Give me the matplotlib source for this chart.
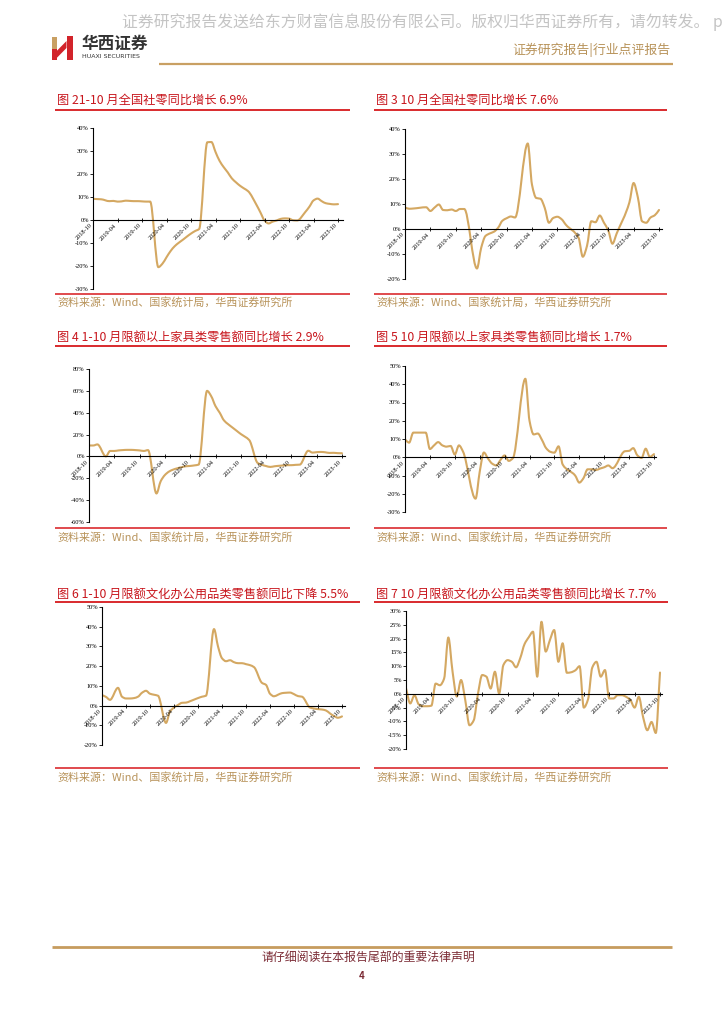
import matplotlib
matplotlib.use('Agg')
import matplotlib.pyplot as plt
from matplotlib.patches import Polygon, Rectangle, PathPatch
from matplotlib.path import Path

plt.rcParams['font.family'] = ['Noto Sans CJK SC', 'DejaVu Sans']

N = None
# month index 0 = 2018-10 ... 60 = 2023-10
xlabels = ['2018-10', '2019-04', '2019-10', '2020-04', '2020-10', '2021-04',
           '2021-10', '2022-04', '2022-10', '2023-04', '2023-10']

# 图2 社零累计同比
retail_ytd = [9.2, 9.1, 9.0,
              N, 8.2, 8.3, 8.0, 8.1, 8.4, 8.3, 8.2, 8.2, 8.1, 8.0, 8.0,
              N, -20.5, -19.0, -16.2, -13.5, -11.4, -9.9, -8.6, -7.2, -5.9, -4.8, -3.9,
              N, 33.8, 33.9, 29.6, 25.7, 23.0, 20.7, 18.1, 16.4, 14.9, 13.7, 12.5,
              N, 6.7, 3.3, -0.2, -1.5, -0.7, -0.2, 0.5, 0.7, 0.6, -0.1, -0.2,
              N, 3.5, 5.8, 8.5, 9.3, 8.2, 7.3, 7.0, 6.8, 6.9]
# 图3 社零当月同比
retail_mom = [8.6, 8.1, 8.2,
              N, N, 8.7, 7.2, 8.6, 9.8, 7.6, 7.5, 7.8, 7.2, 8.0, 8.0,
              N, N, -15.8, -7.5, -2.8, -1.8, -1.1, 0.5, 3.3, 4.3, 5.0, 4.6,
              N, N, 34.2, 17.7, 12.4, 12.1, 8.5, 2.5, 4.4, 4.9, 3.9, 1.7,
              N, N, -3.5, -11.1, -6.7, 3.1, 2.7, 5.4, 2.5, -0.5, -5.9, -1.8,
              N, N, 10.6, 18.4, 12.7, 3.1, 2.5, 4.6, 5.5, 7.6]
# 图4 家具累计同比
furn_ytd = [10.0, 10.0, 11.0,
            N, 0.0, 5.0, 5.0, 5.5, 5.8, 6.0, 6.0, 5.8, 5.5, 5.0, 5.8,
            N, -33.9, -22.7, -17.0, -13.8, -12.0, -10.8, -9.8, -9.0, -8.7, -8.2, -7.5,
            N, 60.0, 55.0, 46.0, 40.0, 33.0, 29.5, 26.5, 23.5, 20.5, 18.0, 15.0,
            N, -6.0, -7.7, -8.8, -9.6, -9.0, -8.6, -8.3, -8.0, -8.0, -7.7, -7.5,
            N, 5.2, 3.5, 3.9, 4.1, 3.8, 3.2, 3.3, 3.0, 2.9]
# 图5 家具当月同比
furn_mom = [9.7, 8.0, 13.5,
            N, N, 13.5, 4.5, 6.5, 8.3, 6.5, 5.8, 6.2, 1.5, 6.5, 3.0,
            N, N, -22.7, -8.0, 2.6, -0.7, -3.5, -4.5, -1.5, 1.0, -2.0, -0.5,
            N, N, 43.0, 20.0, 12.5, 13.0, 9.5, 5.0, 3.0, 2.5, 6.0, -4.0,
            N, N, -10.0, -13.9, -11.5, -6.6, -6.6, -7.0, -6.2, -5.5, -4.5, -6.0,
            N, N, 3.3, 3.5, 5.0, 1.0, -0.4, 4.7, 0.2, 1.7]
# 图6 文化办公累计同比
office_ytd = [5.3, 4.4, 2.9,
              N, 9.0, 4.5, 3.6, 3.6, 3.8, 4.5, 6.5, 7.5, 6.0, 5.5, 5.0,
              N, -8.8, -3.0, -1.0, 0.3, 1.4, 1.5, 2.2, 3.0, 3.8, 4.5, 5.0,
              N, 38.8, 30.0, 24.0, 22.5, 23.0, 22.0, 21.5, 21.5, 21.0, 20.5, 19.5,
              N, 11.5, 10.5, 6.0, 4.7, 5.5, 6.3, 6.5, 6.6, 5.8, 4.8, 4.5,
              N, -1.0, -1.5, -1.8, -2.0, -2.5, -4.0, -5.3, -6.2, -5.5]
# 图7 文化办公当月同比
office_mom = [2.0, -3.5, -0.5,
              -3.8, -4.5, -4.5, -4.3, 3.7, 3.1, 5.5, 20.4, 8.0, -1.0, 5.0, -2.3,
              -11.4, -9.6, 0.0, 6.8, 6.2, 1.9, 8.0, 0.1, 10.4, 12.2, 11.6, 9.6,
              13.0, 18.0, 20.5, 22.5, 6.2, 26.1, 15.3, 19.5, 23.1, 11.6, 18.3, 7.6,
              7.8, 8.5, 10.0, -5.0, -2.0, 9.5, 11.6, 6.2, 8.6, -1.7, -1.7, -0.5,
              -0.5, -1.1, -2.3, -5.0, -1.1, -8.4, -13.2, -10.2, -14.2, 7.7]

titles = ['图 21-10 月全国社零同比增长 6.9%',
          '图 3 10 月全国社零同比增长 7.6%',
          '图 4 1-10 月限额以上家具类零售额同比增长 2.9%',
          '图 5 10 月限额以上家具类零售额同比增长 1.7%',
          '图 6 1-10 月限额文化办公用品类零售额同比下降 5.5%',
          '图 7 10 月限额文化办公用品类零售额同比增长 7.7%']
source = '资料来源：Wind、国家统计局，华西证券研究所'

W, H = 724, 1024
line_c = '#d4a862'
red_c = '#d7191c'
title_c = '#c8161d'
gold_c = '#c9a063'
src_c = '#b8935a'

fig = plt.figure(figsize=(7.24, 10.24), dpi=100)
page = fig.add_axes([0, 0, 1, 1])
page.set_xlim(0, W)
page.set_ylim(H, 0)
page.axis('off')

# header
page.text(122, 22, '证券研究报告发送给东方财富信息股份有限公司。版权归华西证券所有，请勿转发。 p',
          fontsize=11.4, color='#c4c4c4', va='center', ha='left')
page.add_patch(Rectangle((52.3, 36.7), 4.4, 12.6, color='#c9a063', lw=0))
page.add_patch(Rectangle((52.3, 49.3), 4.4, 10.5, color='#d2232a', lw=0))
page.add_patch(Rectangle((66.5, 35.5), 6.8, 24.3, color='#d2232a', lw=0))
page.add_patch(Polygon([(56.7, 51), (66.5, 41), (66.5, 48), (56.7, 58)], closed=True,
                       color='#d2232a', lw=0))
page.text(82, 44, '华西证券', fontsize=12, fontweight='bold', color='#333333', va='center')
page.text(82, 56, 'HUAXI SECURITIES', fontsize=4.5, color='#333333', va='center',
          family=['DejaVu Sans'])
page.text(670, 50, '证券研究报告|行业点评报告', fontsize=9.3, color=src_c, ha='right', va='center')
page.plot([159, 673], [64, 64], color=gold_c, lw=1.6, solid_capstyle='butt')

# footer
page.plot([52, 672], [947, 947], color='#c69c5e', lw=2.0, solid_capstyle='butt')
page.text(368, 958, '请仔细阅读在本报告尾部的重要法律声明', fontsize=8.6, color='#7b2b35',
          ha='center', va='center')
page.text(362, 976, '4', fontsize=7, fontweight='bold', color='#7b2b35', ha='center', va='center')


def smooth_line(ax, xs, ys):
    # smoothed line without overshoot: monotone cubic tangents drawn as Beziers
    n = len(xs)
    h = [xs[i + 1] - xs[i] for i in range(n - 1)]
    d = [(ys[i + 1] - ys[i]) / h[i] for i in range(n - 1)]
    m = [d[0]] + [0.0] * (n - 2) + [d[-1]]
    for i in range(1, n - 1):
        if d[i - 1] * d[i] > 0:
            w1 = 2 * h[i] + h[i - 1]
            w2 = h[i] + 2 * h[i - 1]
            m[i] = (w1 + w2) / (w1 / d[i - 1] + w2 / d[i])
    verts = [(xs[0], ys[0])]
    codes = [Path.MOVETO]
    for i in range(n - 1):
        verts += [(xs[i] + h[i] / 3, ys[i] + m[i] * h[i] / 3),
                  (xs[i + 1] - h[i] / 3, ys[i + 1] - m[i + 1] * h[i] / 3),
                  (xs[i + 1], ys[i + 1])]
        codes += [Path.CURVE4] * 3
    ax.add_patch(PathPatch(Path(verts, codes), fill=False, edgecolor=line_c, lw=1.5,
                           capstyle='round', joinstyle='round'))


def draw_chart(vals, yticks, px_left, px_last, px_right, px_top, px_bot):
    ax = fig.add_axes([px_left / W, 1 - px_bot / H, (px_right - px_left) / W, (px_bot - px_top) / H])
    ax.patch.set_alpha(0)
    xs = [i for i, v in enumerate(vals) if v is not None]
    ys = [v for v in vals if v is not None]
    smooth_line(ax, xs, ys)
    ax.set_xlim(0, 60 * (px_right - px_left) / (px_last - px_left))
    ax.set_ylim(yticks[0], yticks[-1])
    for s in ['top', 'right']:
        ax.spines[s].set_visible(False)
    ax.spines['bottom'].set_position(('data', 0))
    ax.spines['bottom'].set_linewidth(0.8)
    ax.spines['left'].set_linewidth(0.8)
    ax.set_yticks(yticks)
    ax.set_yticklabels(['%d%%' % v for v in yticks], fontsize=4.6, family='Liberation Serif')
    ax.set_xticks(range(0, 61, 6))
    ax.set_xticklabels(xlabels, rotation=45, ha='right', fontsize=4.6, family='Liberation Serif')
    ax.tick_params(axis='y', direction='out', length=2, width=0.6, pad=1)
    ax.tick_params(axis='x', direction='inout', length=3, width=0.6, pad=0.5)
    return ax


def frame(x0, x1, title_y, top_y, bot_y, src_y, title):
    page.text(x0 + 2, title_y, title, fontsize=8.8, color=title_c, va='center', ha='left')
    page.plot([x0, x1], [top_y, top_y], color=red_c, lw=1.3, solid_capstyle='butt')
    page.plot([x0, x1], [bot_y, bot_y], color=red_c, lw=1.1, solid_capstyle='butt')
    page.text(x0 + 2, src_y, source, fontsize=7.9, color=src_c, va='center', ha='left')


frame(55, 350, 100, 109.5, 294, 302, titles[0])
frame(374, 667, 100, 109.5, 294, 302, titles[1])
frame(55, 350, 337, 345.5, 528, 537, titles[2])
frame(374, 667, 337, 345.5, 528, 537, titles[3])
frame(55, 360, 594, 602, 768, 777, titles[4])
frame(374, 668, 594, 602, 768, 777, titles[5])

draw_chart(retail_ytd, list(range(-30, 41, 10)), 93, 338, 343, 128, 289)
draw_chart(retail_mom, list(range(-20, 41, 10)), 405, 659, 662, 129, 279)
draw_chart(furn_ytd, list(range(-60, 81, 20)), 89, 342, 345, 369, 522)
draw_chart(furn_mom, list(range(-30, 51, 10)), 405, 654, 656, 366, 512)
draw_chart(office_ytd, list(range(-20, 51, 10)), 102, 342, 345, 607, 745)
draw_chart(office_mom, list(range(-20, 31, 5)), 406, 660, 662, 611, 749)

fig.savefig('out.png', dpi=100)
